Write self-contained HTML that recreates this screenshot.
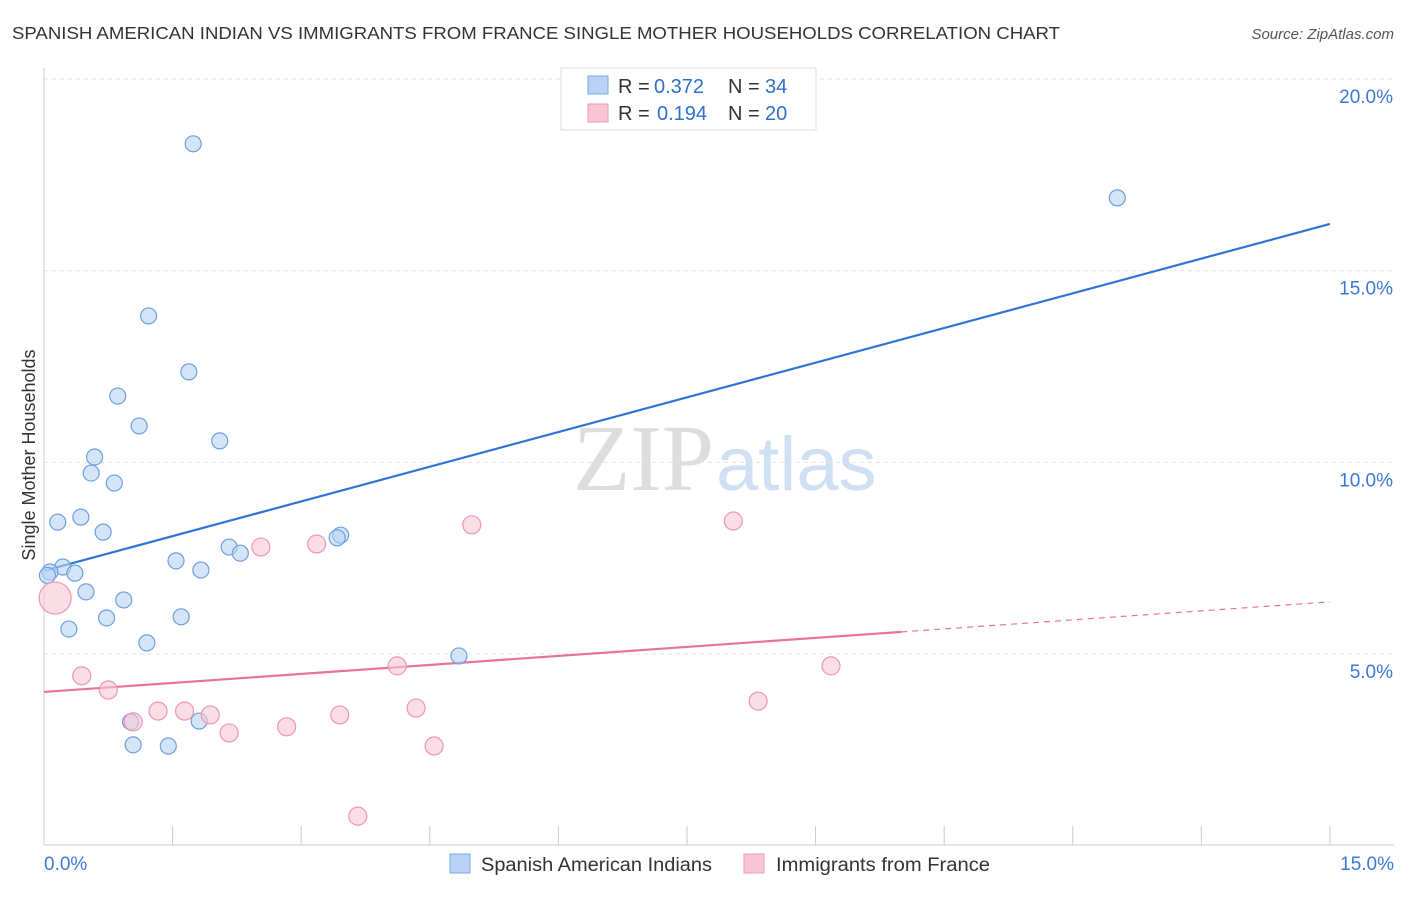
<!DOCTYPE html>
<html><head><meta charset="utf-8"><style>
body{margin:0;background:#fff;font-family:"Liberation Sans",sans-serif}
</style></head><body>
<svg width="1406" height="892" font-family="Liberation Sans, sans-serif">
<text x="12" y="39" font-size="17.5" fill="#333" textLength="1048" lengthAdjust="spacingAndGlyphs">SPANISH AMERICAN INDIAN VS IMMIGRANTS FROM FRANCE SINGLE MOTHER HOUSEHOLDS CORRELATION CHART</text>
<text x="1394" y="39" font-size="15" fill="#555" text-anchor="end" font-style="italic">Source: ZipAtlas.com</text>
<text x="714" y="490" font-size="94" fill="#ddd" text-anchor="end" font-family="Liberation Serif, serif">ZIP</text>
<text x="716" y="490" font-size="76" fill="#cfe0f3">atlas</text>
<g id="grid"></g><g id="axes"></g><g id="lines"></g><g id="pts"></g>
<text x="35" y="455" font-size="18" fill="#333" text-anchor="middle" transform="rotate(-90 35 455)">Single Mother Households</text>
<g>
<rect x="561" y="68" width="255" height="62" fill="#fff" stroke="#ddd"/>
<rect x="588" y="76" width="20" height="18" fill="#b8d3f3" stroke="#7aa7e0"/>
<rect x="588" y="104" width="20" height="18" fill="#f9c6d4" stroke="#ee9ab3"/>
<text y="93" font-size="20" fill="#333"><tspan x="618">R =</tspan><tspan x="654" fill="#2f6fd0">0.372</tspan><tspan x="728">N =</tspan><tspan x="765" fill="#2f6fd0">34</tspan></text>
<text y="120" font-size="20" fill="#333"><tspan x="618">R =</tspan><tspan x="657" fill="#2f6fd0">0.194</tspan><tspan x="728">N =</tspan><tspan x="765" fill="#2f6fd0">20</tspan></text>
</g>
<g>
<rect x="450" y="854" width="20" height="19" fill="#b8d3f3" stroke="#7aa7e0"/>
<text x="481" y="871" font-size="19" fill="#333" textLength="231" lengthAdjust="spacingAndGlyphs">Spanish American Indians</text>
<rect x="744" y="854" width="20" height="19" fill="#f9c6d4" stroke="#ee9ab3"/>
<text x="776" y="871" font-size="19" fill="#333" textLength="214" lengthAdjust="spacingAndGlyphs">Immigrants from France</text>
</g>
</svg>
<script>
const yTicks=[5,10,15,20];
const xTickLabels=["0.0%","15.0%"];
const blueX=[1.74,12.52,1.22,1.69,0.86,1.11,2.05,0.59,0.55,0.82,0.43,0.16,0.69,3.46,3.42,2.16,2.29,1.54,0.22,1.83,0.07,0.36,0.49,0.93,0.73,1.60,0.29,1.20,4.84,1.01,1.81,1.04,1.45,0.04];
const blueY=[18.31,16.90,13.82,12.36,11.73,10.95,10.56,10.14,9.72,9.46,8.57,8.44,8.18,8.10,8.03,7.79,7.63,7.43,7.27,7.19,7.14,7.11,6.62,6.41,5.94,5.97,5.65,5.29,4.95,3.23,3.25,2.63,2.60,7.05];
const pinkX=[0.13,0.44,0.75,1.33,1.64,1.94,1.04,2.16,2.53,3.18,2.83,3.45,4.12,4.34,4.55,3.66,4.99,8.04,8.33,9.18];
const pinkY=[6.46,4.43,4.06,3.51,3.51,3.41,3.23,2.94,7.79,7.87,3.10,3.41,4.69,3.59,2.60,0.77,8.37,8.47,3.77,4.69];
const pinkR=[16,9,9,9,9,9,9,9,9,9,9,9,9,9,9,9,9,9,9,9];
const blueLine=[7.17,16.22];
const pinkLine=[4.01,6.36];
const pinkSolidEnd=10.0;
const X=v=>44+v*85.73, Y=v=>654-(v-5)*38.33;
const NS="http://www.w3.org/2000/svg";
function mk(p,t,a){const e=document.createElementNS(NS,t);for(const k in a)e.setAttribute(k,a[k]);document.getElementById(p).appendChild(e);return e;}
yTicks.forEach(t=>{
 const l=mk('grid','line',{x1:44,x2:1394,y1:Y(t),y2:Y(t),stroke:'#e2e2e2','stroke-dasharray':'4,4'});
 
 
 const tx=mk('grid','text',{x:1393,y:Y(t)+24,'font-size':19,fill:'#3b78d8','text-anchor':'end'});
 tx.textContent=t.toFixed(1)+'%';
 
 
});
const ax=mk('axes','line',{x1:44,x2:1394,y1:845,y2:845,stroke:'#ccc'});


const ay=mk('axes','line',{x1:44,x2:44,y1:68,y2:845,stroke:'#ccc'});


for(let i=0;i<=10;i++){const t=mk('axes','line',{x1:X(i*1.5),x2:X(i*1.5),y1:826,y2:845,stroke:'#ccc'});
 
 }
[[0,'start',44],[15,'end',1394]].forEach((d,i)=>{const t=mk('axes','text',{x:d[2],y:870,'font-size':19,fill:'#3b78d8','text-anchor':d[1]});t.textContent=xTickLabels[i];
 
 });
const bl=mk('lines','line',{x1:X(0),y1:Y(blueLine[0]),x2:X(15),y2:Y(blueLine[1]),stroke:'#2f74d6','stroke-width':2.2});


const pAt=v=>pinkLine[0]+(pinkLine[1]-pinkLine[0])*v/15;
const pl=mk('lines','line',{x1:X(0),y1:Y(pinkLine[0]),x2:X(pinkSolidEnd),y2:Y(pAt(pinkSolidEnd)),stroke:'#e8739a','stroke-width':2.2});


const pd=mk('lines','line',{x1:X(pinkSolidEnd),y1:Y(pAt(pinkSolidEnd)),x2:X(15),y2:Y(pinkLine[1]),stroke:'#e8739a','stroke-width':1.2,'stroke-dasharray':'6,5'});


blueX.forEach((v,i)=>{const c=mk('pts','circle',{cx:X(v),cy:Y(blueY[i]),r:8,fill:'rgba(184,211,243,0.6)',stroke:'#6f9fdc','stroke-width':1.2});
 
 });
pinkX.forEach((v,i)=>{const c=mk('pts','circle',{cx:X(v),cy:Y(pinkY[i]),r:pinkR[i],fill:'rgba(249,198,212,0.6)',stroke:'#ec97b1','stroke-width':1.2});
 
 });
</script>
</body></html>
